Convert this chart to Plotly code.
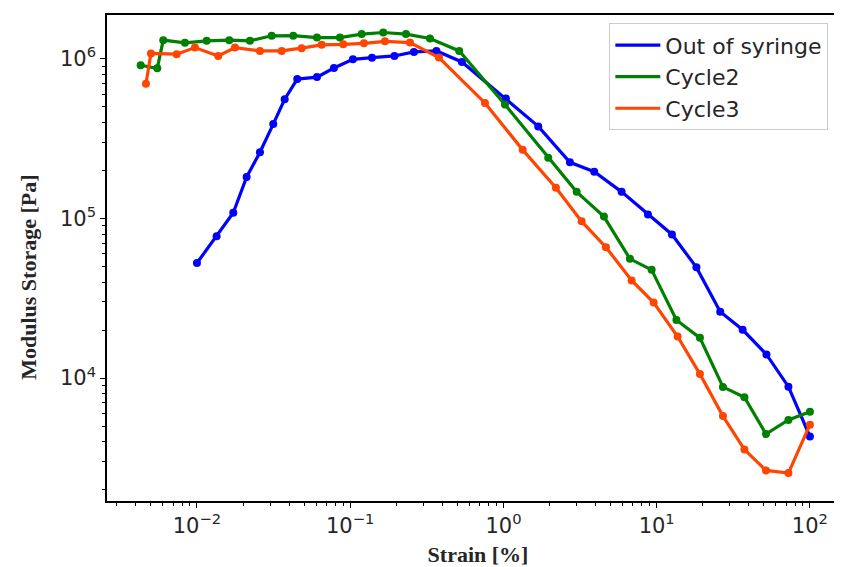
import plotly.graph_objects as go

# ---- data ----
syringe_strain = [0.01, 0.01344, 0.01726, 0.0211, 0.02577, 0.03147, 0.03736, 0.04513, 0.0607, 0.0783,
                  0.1042, 0.1387, 0.1944, 0.2606, 0.3654, 0.5361, 1.038, 1.687, 2.716, 3.913,
                  5.905, 8.768, 12.58, 18.17, 25.98, 36.38, 52.03, 72.39, 100.0]
syringe_modulus = [52600, 77500, 108800, 182000, 260100, 390700, 559300, 747600, 769800, 877500,
                   995000, 1019000, 1044000, 1107000, 1123000, 957400, 564900, 377900, 224900, 196600,
                   146960, 105970, 79500, 49430, 26090, 20090, 14070, 8840, 4307]

cycle2_strain = [0.004291, 0.005508, 0.006026, 0.008351, 0.01157, 0.01625, 0.02216, 0.03072, 0.04251, 0.0607,
                 0.0857, 0.1188, 0.1643, 0.2311, 0.3315, 0.5148, 1.023, 1.96, 3.004, 4.526,
                 6.689, 9.271, 13.45, 19.15, 27.06, 37.38, 51.64, 72.39, 100.0]
cycle2_modulus = [912700, 873600, 1312000, 1262000, 1299000, 1312000, 1300000, 1397000, 1400000, 1362000,
                  1362000, 1432000, 1465000, 1432000, 1343000, 1123000, 517900, 240800, 147000, 102900,
                  55930, 47680, 23120, 17880, 8813, 7590, 4465, 5472, 6165]

cycle3_strain = [0.004647, 0.00501, 0.007373, 0.0097, 0.01377, 0.0177, 0.02577, 0.0357, 0.04822, 0.06514,
                 0.09011, 0.1229, 0.1686, 0.2454, 0.3794, 0.7574, 1.335, 2.2, 3.238, 4.664,
                 6.864, 9.553, 13.7, 19.15, 27.06, 37.38, 51.64, 72.39, 100.0]
cycle3_modulus = [698600, 1083000, 1071000, 1178000, 1044000, 1178000, 1123000, 1123000, 1168000, 1226000,
                  1235000, 1253000, 1290000, 1267000, 1020000, 530000, 269400, 155800, 96000, 66120,
                  40930, 29730, 18220, 10600, 5782, 3565, 2640, 2541, 5110]

series_names = ["Out of syringe", "Cycle2", "Cycle3"]
series_colors = ["#0000ff", "#008000", "#ff4500"]

x_major = [0.01, 0.1, 1, 10, 100]
x_major_text = ["10<sup>−2</sup>", "10<sup>−1</sup>", "10<sup>0</sup>", "10<sup>1</sup>", "10<sup>2</sup>"]
y_major = [1e4, 1e5, 1e6]
y_major_text = ["10<sup>4</sup>", "10<sup>5</sup>", "10<sup>6</sup>"]

x_minor = [m * 10.0 ** k for k in range(-3, 3) for m in range(2, 10)]
y_minor = [m * 10.0 ** k for k in range(3, 7) for m in range(2, 10)]

x_title = "Strain [%]"
y_title = "Modulus Storage [Pa]"

fig = go.Figure()
data = [(syringe_strain, syringe_modulus), (cycle2_strain, cycle2_modulus), (cycle3_strain, cycle3_modulus)]
for (xs, ys), name, col in zip(data, series_names, series_colors):
    fig.add_trace(go.Scatter(x=xs, y=ys, mode="lines+markers", name=name, showlegend=False,
                             line=dict(color=col, width=3.2),
                             marker=dict(color=col, size=8)))
for name, col in zip(series_names, series_colors):
    fig.add_trace(go.Scatter(x=[None], y=[None], mode="lines", name=name,
                             line=dict(color=col, width=3.2)))

tickfont = dict(family="DejaVu Sans", size=21, color="#262626")
titlefont = dict(family="Liberation Serif", size=22, color="#262626", weight="bold")
fig.update_xaxes(type="log", range=[-2.587, 2.255], automargin=False,
                 tickmode="array", tickvals=x_major, ticktext=x_major_text,
                 ticks="outside", ticklen=5, tickwidth=1, tickcolor="black",
                 minor=dict(tickmode="array", tickvals=x_minor, ticks="outside", ticklen=3,
                            tickwidth=1, tickcolor="black", showgrid=False),
                 showgrid=False, zeroline=False,
                 showline=True, linecolor="black", linewidth=1.5, mirror=True,
                 tickfont=tickfont,
                 title=dict(text=x_title, standoff=10, font=titlefont))
fig.update_yaxes(type="log", range=[3.23, 6.2754], automargin=False,
                 tickmode="array", tickvals=y_major, ticktext=y_major_text,
                 ticks="outside", ticklen=5, tickwidth=1, tickcolor="black",
                 minor=dict(tickmode="array", tickvals=y_minor, ticks="outside", ticklen=3,
                            tickwidth=1, tickcolor="black", showgrid=False),
                 showgrid=False, zeroline=False,
                 showline=True, linecolor="black", linewidth=1.5, mirror=True,
                 tickfont=tickfont)

fig.add_annotation(text=y_title, textangle=-90, xref="paper", yref="paper",
                   x=-0.106, y=0.46, xanchor="center", yanchor="middle",
                   showarrow=False, font=titlefont)

fig.update_layout(
    width=842, height=567,
    margin=dict(l=99, r=1, t=7, b=74),
    paper_bgcolor="white", plot_bgcolor="white",
    legend=dict(x=0.677, y=0.983, xanchor="left", yanchor="top",
                bgcolor="white", bordercolor="#cccccc", borderwidth=1,
                font=dict(family="DejaVu Sans", size=22, color="#262626"),
                itemwidth=45, tracegroupgap=0),
    showlegend=True,
)

fig.write_html("out.html")
